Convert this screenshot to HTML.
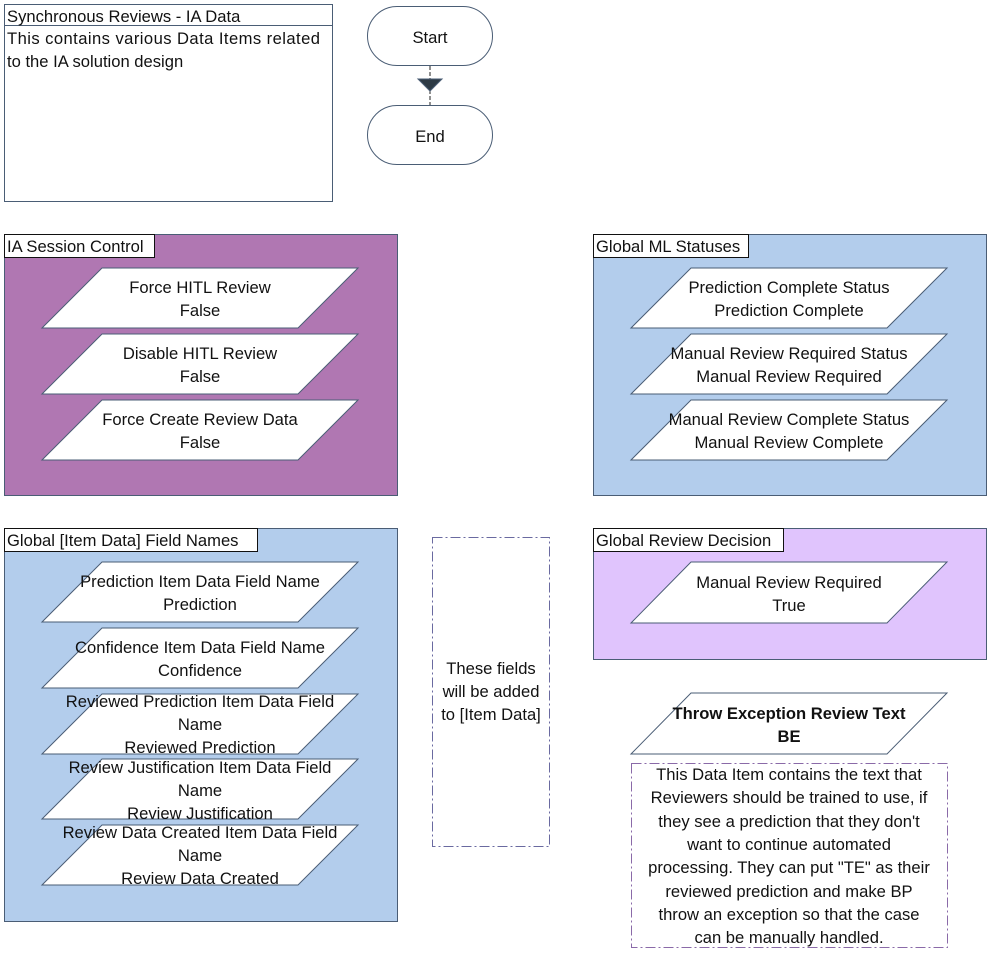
<!DOCTYPE html>
<html><head><meta charset="utf-8"><style>
body{margin:0;background:#fff}
svg text{font-family:"Liberation Sans",sans-serif;font-size:16.6px;fill:#111}
</style></head><body>
<svg width="992" height="950" viewBox="0 0 992 950" xmlns="http://www.w3.org/2000/svg">
<g stroke="#4a5d75" stroke-width="1">
<rect x="4.5" y="4.5" width="328" height="197" fill="#fff"/>
<line x1="4.5" y1="25.5" x2="332.5" y2="25.5"/>
<rect x="367.5" y="6.5" width="125" height="59" rx="29.5" fill="#fff"/>
<rect x="367.5" y="105.5" width="125" height="59" rx="29.5" fill="#fff"/>
<line x1="430" y1="66" x2="430" y2="105" stroke="#222" stroke-dasharray="4,2"/>
<polygon points="418,79 442,79 430,91" fill="#2d3a45"/>
<rect x="4.5" y="234.5" width="393" height="261" fill="#b077b2"/>
<rect x="593.5" y="234.5" width="393" height="261" fill="#b3cdec"/>
<rect x="4.5" y="528.5" width="393" height="393" fill="#b3cdec"/>
<rect x="593.5" y="528.5" width="393" height="131" fill="#e0c4fd"/>
<rect x="4.5" y="234.5" width="150" height="23" fill="#fff" stroke="#111"/>
<rect x="593.5" y="234.5" width="155" height="23" fill="#fff" stroke="#111"/>
<rect x="4.5" y="528.5" width="253" height="23" fill="#fff" stroke="#111"/>
<rect x="593.5" y="528.5" width="190" height="23" fill="#fff" stroke="#111"/>
<g fill="#fff">
<polygon points="42,328 102,268 358,268 298,328"/>
<polygon points="42,394 102,334 358,334 298,394"/>
<polygon points="42,460 102,400 358,400 298,460"/>
<polygon points="631,328 691,268 947,268 887,328"/>
<polygon points="631,394 691,334 947,334 887,394"/>
<polygon points="631,460 691,400 947,400 887,460"/>
<polygon points="42,622 102,562 358,562 298,622"/>
<polygon points="42,688 102,628 358,628 298,688"/>
<polygon points="42,754 102,694 358,694 298,754"/>
<polygon points="42,819 102,759 358,759 298,819"/>
<polygon points="42,885 102,825 358,825 298,885"/>
<polygon points="631,623 691,562 947,562 887,623"/>
<polygon points="631,754 691,693 947,693 887,754"/>
</g>
<rect x="432.5" y="537.5" width="117" height="309" fill="none" stroke="#6a6aa0" stroke-dasharray="10,3,2,3"/>
<rect x="631.5" y="763.5" width="316" height="184" fill="none" stroke="#8a6aa8" stroke-dasharray="10,3,2,3"/>
</g>
<text x="7" y="22">Synchronous Reviews - IA Data</text>
<text x="7" y="44" textLength="313">This contains various Data Items related</text>
<text x="7" y="67">to the IA solution design</text>
<text x="430" y="43" text-anchor="middle">Start</text>
<text x="430" y="142" text-anchor="middle">End</text>
<text x="7" y="252">IA Session Control</text>
<text x="596" y="252">Global ML Statuses</text>
<text x="7" y="546">Global [Item Data] Field Names</text>
<text x="596" y="546">Global Review Decision</text>
<g text-anchor="middle">
<text x="200" y="293">Force HITL Review</text><text x="200" y="316">False</text>
<text x="200" y="359">Disable HITL Review</text><text x="200" y="382">False</text>
<text x="200" y="425">Force Create Review Data</text><text x="200" y="448">False</text>
<text x="789" y="293">Prediction Complete Status</text><text x="789" y="316">Prediction Complete</text>
<text x="789" y="359">Manual Review Required Status</text><text x="789" y="382">Manual Review Required</text>
<text x="789" y="425">Manual Review Complete Status</text><text x="789" y="448">Manual Review Complete</text>
<text x="200" y="587">Prediction Item Data Field Name</text><text x="200" y="610">Prediction</text>
<text x="200" y="653">Confidence Item Data Field Name</text><text x="200" y="676">Confidence</text>
<text x="200" y="707">Reviewed Prediction Item Data Field</text><text x="200" y="730">Name</text><text x="200" y="753">Reviewed Prediction</text>
<text x="200" y="773">Review Justification Item Data Field</text><text x="200" y="796">Name</text><text x="200" y="819">Review Justification</text>
<text x="200" y="838">Review Data Created Item Data Field</text><text x="200" y="861">Name</text><text x="200" y="884">Review Data Created</text>
<text x="491" y="674">These fields</text><text x="491" y="697">will be added</text><text x="491" y="720">to [Item Data]</text>
<text x="789" y="588">Manual Review Required</text><text x="789" y="611">True</text>
<text x="789" y="719" font-weight="bold">Throw Exception Review Text</text><text x="789" y="742" font-weight="bold">BE</text>
<text x="789" y="780">This Data Item contains the text that</text>
<text x="789" y="803">Reviewers should be trained to use, if</text>
<text x="789" y="827">they see a prediction that they don't</text>
<text x="789" y="850">want to continue automated</text>
<text x="789" y="873">processing. They can put "TE" as their</text>
<text x="789" y="897">reviewed prediction and make BP</text>
<text x="789" y="920">throw an exception so that the case</text>
<text x="789" y="943">can be manually handled.</text>
</g>
</svg>
</body></html>
